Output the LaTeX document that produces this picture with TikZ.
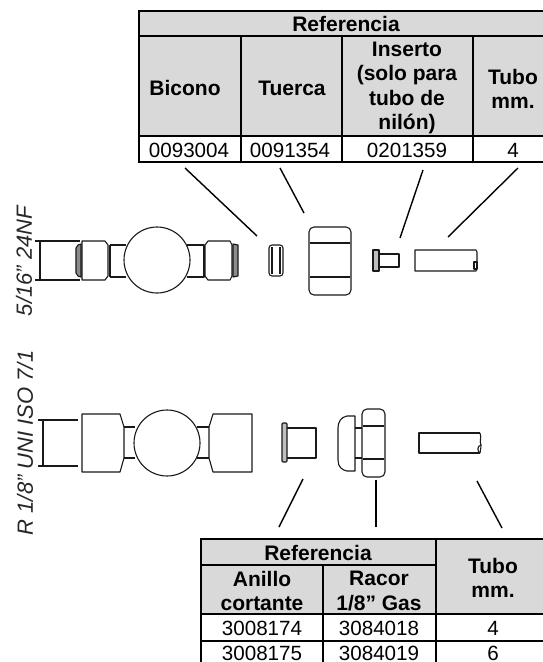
\documentclass[tikz,border=0pt]{standalone}
\usepackage{fontspec}
\setmainfont{Liberation Sans}
\definecolor{cellgray}{HTML}{D9D9D9}
\definecolor{partgray}{HTML}{8C8C8C}
\tikzset{
  grid line/.style={color=black,line width=2},
  cell head/.style={inner sep=0,align=center,font=\fontsize{21}{24.4}\selectfont\bfseries},
  cell data/.style={inner sep=0,font=\fontsize{20.6}{24.4}\selectfont},
  part/.style={color=black!90,line width=1.1,line join=round},
  leader/.style={color=black,line width=1.4},
  thread/.style={inner sep=0,rotate=90,color=black!85,font=\fontsize{22}{24}\selectfont\itshape},
}
\begin{document}
\begin{tikzpicture}[x=1pt,y=-1pt]
\useasboundingbox (0,0) rectangle (543,662);

% The upper table, it runs off the right edge
\fill[fill=cellgray] (139,11) rectangle (543,136);
\draw[grid line] (543,11) -- (139,11) -- (139,162) -- (543,162);
\draw[grid line] (139,36) -- (543,36);
\draw[grid line] (139,136) -- (543,136);
\foreach \colx in {241,342,473} \draw[grid line] (\colx,36) -- (\colx,162);
\node[cell head] (refa) at (346,24) {Referencia};
\node[cell head] (bicono) at (185,88) {Bicono};
\node[cell head] (tuerca) at (292,88) {Tuerca};
\node[cell head] (inserto) at (407,88) {Inserto\\(solo para\\tubo de\\nilón)};
\node[cell head] (tuboa) at (513,89) {Tubo\\mm.};
\node[cell data] (bicono0) at (189,150) {0093004};
\node[cell data] (tuerca0) at (290,150) {0091354};
\node[cell data] (inserto0) at (407,150) {0201359};
\node[cell data] (tuboa0) at (513,150) {4};

% The lower table, it runs off the bottom edge
\fill[fill=cellgray] (201,539) rectangle (543,614);
\draw[grid line] (543,539) -- (201,539) -- (201,662);
\draw[grid line] (201,565) -- (436,565);
\draw[grid line] (201,614) -- (543,614);
\draw[grid line] (201,641) -- (543,641);
\draw[grid line] (323,565) -- (323,662);
\draw[grid line] (436,539) -- (436,662);
\node[cell head] (refb) at (318,553) {Referencia};
\node[cell head] (anillo) at (262,591) {Anillo\\cortante};
\node[cell head] (racor) at (379,591) {Racor\\1/8” Gas};
\node[cell head] (tubob) at (493,578) {Tubo\\mm.};
\node[cell data] (anillo0) at (262,628) {3008174};
\node[cell data] (racor0) at (379,628) {3084018};
\node[cell data] (tubob0) at (493,628) {4};
\node[cell data] (anillo1) at (262,653.5) {3008175};
\node[cell data] (racor1) at (379,653.5) {3084019};
\node[cell data] (tubob1) at (493,653.5) {6};

% The thread labels
\node[thread] (threada) at (24,261) {5/16” 24NF};
\node[thread] (threadb) at (25,443) {R 1/8” UNI ISO 7/1};

% The upper valve
\draw[part] (157,260) circle (33);
\draw[part] (35,241) -- (80,241);
\draw[part] (35,280) -- (80,280);
\draw[part] (40,241) -- (40,280);
\filldraw[part,fill=partgray] (81,244) -- (78,245) -- (76,248) -- (76,273) -- (78,276) -- (81,277) -- cycle;
\draw[part] (82,241) -- (105,241) -- (108,245) -- (108,276) -- (105,280) -- (82,280) -- cycle;
\draw[part] (110,245) -- (126,245);
\draw[part] (110,277) -- (126,277);
\draw[part] (110,245) -- (110,277);
\draw[part] (187,245) -- (204,245) -- (204,277) -- (187,277);
\draw[part] (232,245) -- (230,241) -- (208,241) -- (205,245) -- (205,276) -- (208,280) -- (230,280) -- (232,276) -- cycle;
\filldraw[part,fill=partgray] (233,244) -- (238,245) -- (238,276) -- (233,277) -- cycle;

% The upper loose parts: bicone, nut, insert, tube
\draw[part,rounded corners=3] (269,245) rectangle (283,276);
\draw[part] (272,247) -- (272,274);
\draw[part] (280,247) -- (280,274);
\draw[part,rounded corners=5] (309,227) rectangle (351,295);
\draw[part] (310,243) -- (350,243);
\draw[part] (310,277) -- (350,277);
\filldraw[part,fill=black!25] (373,250) rectangle (379,271);
\draw[part] (379,254) rectangle (399,267);
\draw[part] (477,262) -- (477,252) -- (476,250) -- (415,250) -- (415,271) -- (476,271) -- (477,269);
\draw[part] (474,262) rectangle (477,269);

% The lower valve
\draw[part] (167,443) circle (33);
\draw[part] (38,420) -- (78,420);
\draw[part] (38,466) -- (78,466);
\draw[part] (43,420) -- (43,466);
\draw[part] (82,414) -- (120,414) -- (124,427) -- (124,458) -- (120,472) -- (82,472) -- cycle;
\draw[part] (124,427) -- (135,427);
\draw[part] (124,458) -- (135,458);
\draw[part] (197,427) -- (209,427);
\draw[part] (197,458) -- (209,458);
\draw[part] (252,414) -- (213,414) -- (209,427) -- (209,458) -- (213,472) -- (252,472) -- cycle;

% The lower loose parts: ring, union, tube
\filldraw[part,fill=black!25,rounded corners=1] (282,423) rectangle (287,462);
\draw[part] (287,428) -- (316,428) -- (316,458) -- (287,458);
\draw[part] (355,471) -- (355,416) -- (347,416) .. controls (341,417) and (338,422) .. (338,428) -- (338,460) .. controls (338,467) and (342,470) .. (347,471) -- cycle;
\draw[part] (355,428) -- (362,428);
\draw[part] (355,458) -- (362,458);
\draw[part,rounded corners=5] (362,409) rectangle (385,477);
\draw[part] (363,426) -- (384,426);
\draw[part] (363,459) -- (384,459);
\draw[part] (480,433) -- (419,433) -- (419,453) -- (480,453);
\draw[part] (480,433) .. controls (482,438) and (479,441) .. (481,445) .. controls (481,449) and (480,451) .. (480,453);
\draw[part] (481,445) .. controls (477,446) and (477,451) .. (480,453);

% The leader lines
\foreach \fromx/\fromy/\tox/\toy in {185/168/257/236,280/168/304/213,423/170/400/238,518/168/448/237,
    303/479/279/527,376/480/376/527,477/481/502/528} {
  \coordinate (from) at (\fromx,\fromy);
  \coordinate (to) at (\tox,\toy);
  \draw[leader] (from) -- (to);
}

\end{tikzpicture}
\end{document}
